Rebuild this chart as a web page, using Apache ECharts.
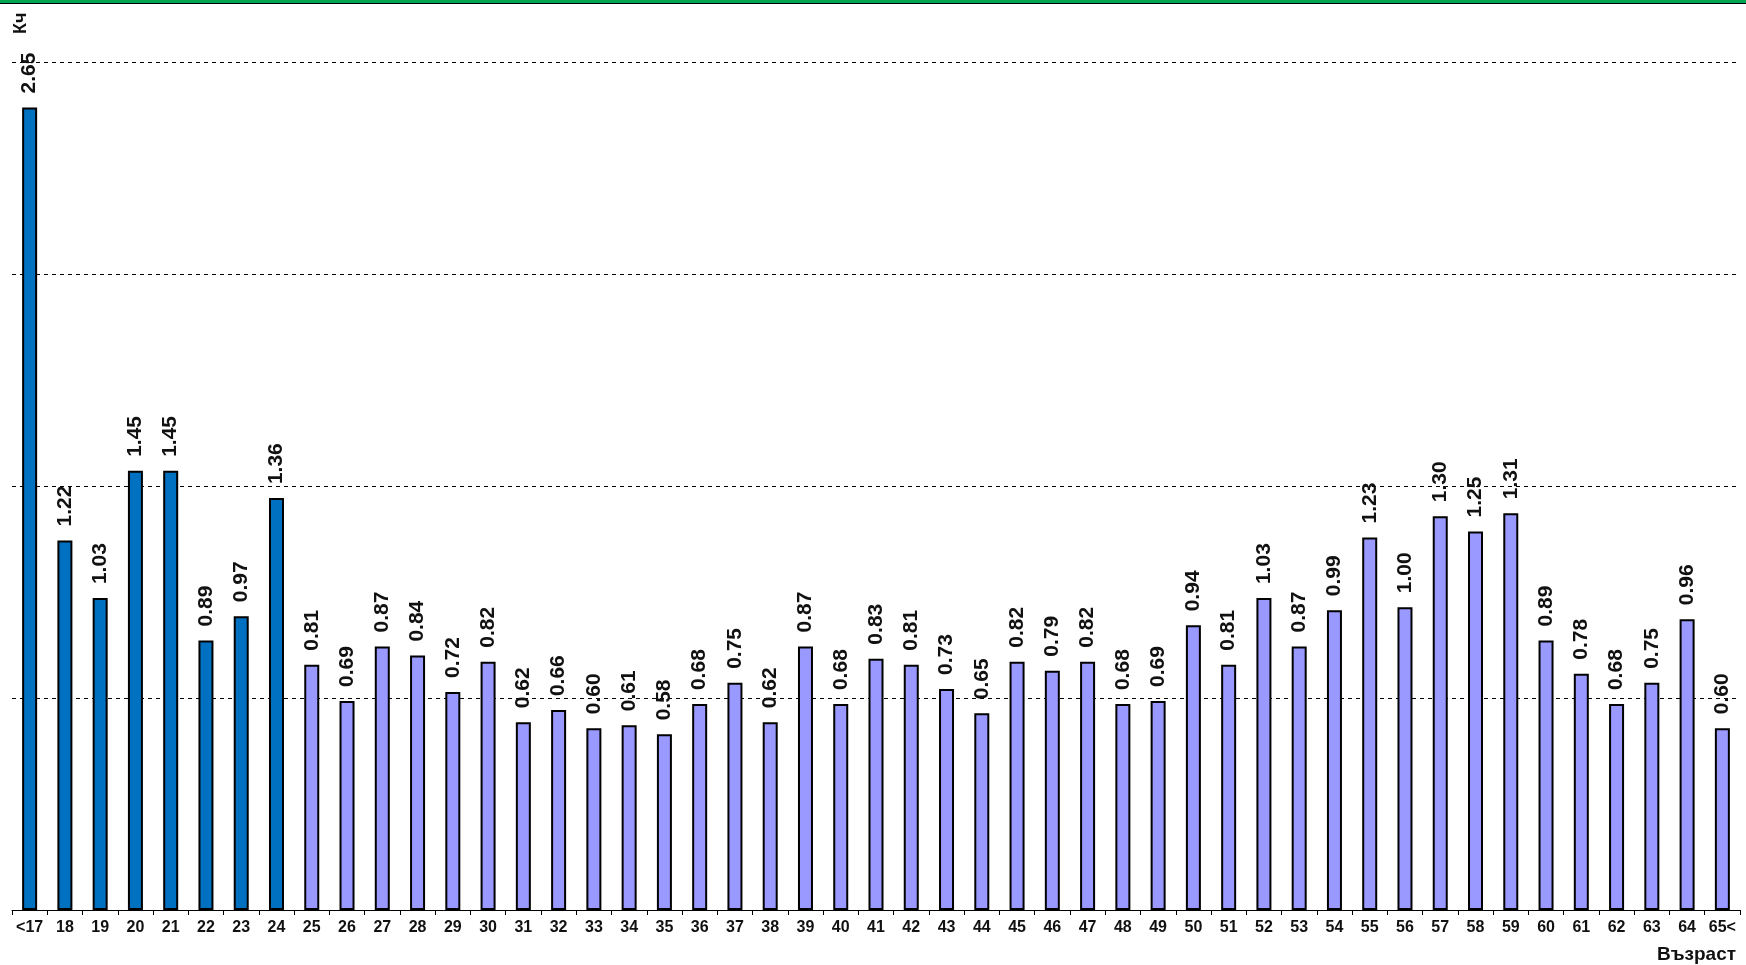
<!DOCTYPE html>
<html>
<head>
<meta charset="utf-8">
<script src="https://cdn.jsdelivr.net/npm/echarts@6/dist/echarts.min.js"></script>
<style>
  html, body { margin: 0; padding: 0; background: #fff; }
  .top-band {
    position: absolute; left: 0; top: 0; width: 1746px; height: 3px;
    background: #00a64f; border-bottom: 1px solid #000; z-index: 2;
  }
  #chart { width: 1746px; height: 965px; }
</style>
</head>
<body>
<div class="top-band"></div>
<div id="chart"></div>
<script>
// ---------------- D A T A ---------------- //

const ages = ['<17', '18', '19', '20', '21', '22', '23', '24', '25', '26', '27', '28', '29', '30',
  '31', '32', '33', '34', '35', '36', '37', '38', '39', '40', '41', '42', '43', '44', '45', '46',
  '47', '48', '49', '50', '51', '52', '53', '54', '55', '56', '57', '58', '59', '60', '61', '62',
  '63', '64', '65<']

const ratios = [2.65, 1.22, 1.03, 1.45, 1.45, 0.89, 0.97, 1.36, 0.81, 0.69, 0.87, 0.84, 0.72, 0.82,
  0.62, 0.66, 0.60, 0.61, 0.58, 0.68, 0.75, 0.62, 0.87, 0.68, 0.83, 0.81, 0.73, 0.65, 0.82, 0.79,
  0.82, 0.68, 0.69, 0.94, 0.81, 1.03, 0.87, 0.99, 1.23, 1.00, 1.30, 1.25, 1.31, 0.89, 0.78, 0.68,
  0.75, 0.96, 0.60]

// first eight age groups (up to 24) are drawn in the darker blue
const youngCount = 8

const yMin = 0
const yMax = 2.8
const yStep = 0.7

const yTitle = 'Кч'
const xTitle = 'Възраст'

// ------------- O P T I O N ------------- //

const fontFamily = 'Arial, "Liberation Sans", sans-serif'

const option = {
  animation: false,
  grid: { left: 12, right: 6, top: 62, bottom: 55 },
  graphic: [
    {
      // rotated y-axis title, top left corner
      type: 'text',
      x: 21,
      y: 34,
      rotation: Math.PI / 2,
      style: {
        text: yTitle,
        align: 'left',
        verticalAlign: 'middle',
        fill: '#111',
        font: 'bold 18px ' + fontFamily
      }
    }
  ],
  xAxis: {
    type: 'category',
    data: ages,
    name: xTitle,
    nameLocation: 'end',
    nameGap: -4,
    nameTextStyle: {
      align: 'right',
      verticalAlign: 'top',
      padding: [35, 0, 0, 0],
      color: '#111',
      fontSize: 19,
      fontWeight: 'bold',
      fontFamily
    },
    axisLine: { lineStyle: { color: '#000', width: 1 } },
    axisTick: { show: true, length: 5, lineStyle: { color: '#000' } },
    axisLabel: {
      interval: 0,
      margin: 10,
      color: '#111',
      fontSize: 16,
      fontWeight: 'bold',
      fontFamily
    }
  },
  yAxis: {
    type: 'value',
    min: yMin,
    max: yMax,
    interval: yStep,
    axisLine: { show: false },
    axisTick: { show: false },
    axisLabel: { show: false },
    splitLine: {
      lineStyle: { color: '#000', type: [4, 4], width: 1 }
    }
  },
  series: [
    {
      type: 'bar',
      barWidth: 15,
      data: ratios.map((v, i) => ({
        value: v,
        itemStyle: { color: i < youngCount ? '#0070c0' : '#9999ff' }
      })),
      itemStyle: { borderColor: '#000', borderWidth: 2 },
      label: {
        show: true,
        position: 'top',
        rotate: 90,
        align: 'left',
        verticalAlign: 'middle',
        distance: 14,
        color: '#111',
        fontSize: 21,
        fontWeight: 'bold',
        fontFamily,
        formatter: p => p.value.toFixed(2)
      }
    }
  ]
}

const myChart = echarts.init(document.getElementById('chart'))
myChart.setOption(option)
</script>
</body>
</html>
